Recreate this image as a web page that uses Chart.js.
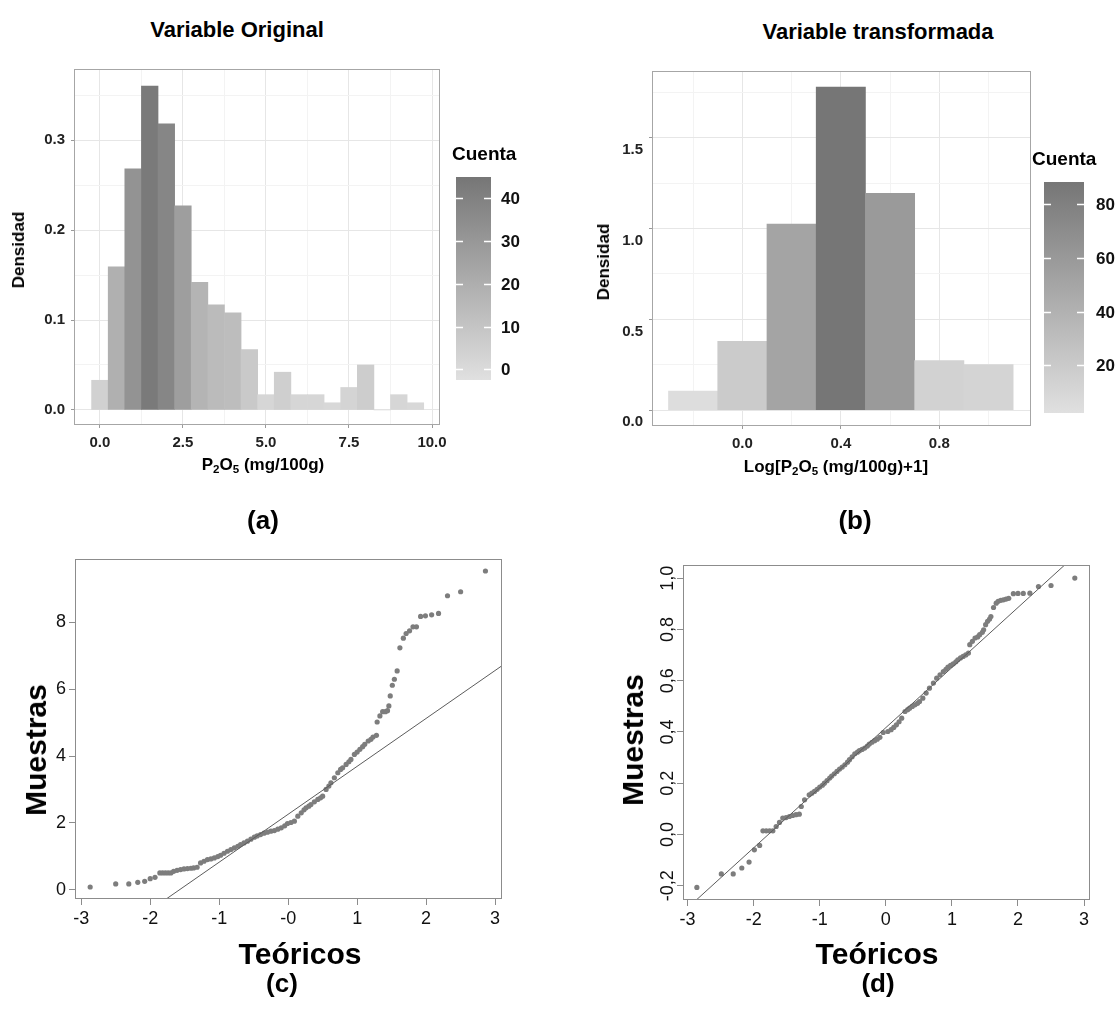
<!DOCTYPE html>
<html lang="es">
<head>
<meta charset="utf-8">
<title>P2O5: histogramas y Q-Q</title>
<script src="https://cdn.jsdelivr.net/npm/chart.js@4.4.1/dist/chart.umd.min.js"></script>
<style>
  html, body { margin: 0; padding: 0; background: #fff; }
  body { width: 1120px; height: 1025px; position: relative; overflow: hidden;
         font-family: 'Liberation Sans', Arial, sans-serif; color: #000; }
  canvas { position: absolute; }
  .txt { position: absolute; font-weight: bold; white-space: nowrap; transform: translate(-50%, -50%); }
  .titulo { font-size: 22px; }
  .letra { font-size: 26px; }
  .eje { font-size: 17px; }
  .ejeqq { font-size: 30px; }
  .vert { transform: translate(-50%, -50%) rotate(-90deg); }
  sub { font-size: 68%; vertical-align: -0.3em; line-height: 0; }
</style>
</head>
<body>
<canvas id="ca" width="540" height="430" style="left:0px; top:50px"></canvas>
<canvas id="cb" width="540" height="430" style="left:580px; top:50px"></canvas>
<canvas id="cc" width="560" height="400" style="left:0px; top:540px"></canvas>
<canvas id="cd" width="530" height="400" style="left:590px; top:540px"></canvas>

<div class="txt titulo" style="left:237px; top:30px">Variable Original</div>
<div class="txt titulo" style="left:878px; top:32px">Variable transformada</div>
<div class="txt vert eje" style="left:19px; top:250px">Densidad</div>
<div class="txt eje" style="left:263px; top:465px">P<sub>2</sub>O<sub>5</sub> (mg/100g)</div>
<div class="txt vert eje" style="left:604px; top:262px">Densidad</div>
<div class="txt eje" style="left:836px; top:467px">Log[P<sub>2</sub>O<sub>5</sub> (mg/100g)+1]</div>
<div class="txt letra" style="left:263px; top:520px">(a)</div>
<div class="txt letra" style="left:855px; top:520px">(b)</div>
<div class="txt vert ejeqq" style="left:36px; top:750px">Muestras</div>
<div class="txt ejeqq" style="left:300px; top:954px">Teóricos</div>
<div class="txt vert ejeqq" style="left:633px; top:740px">Muestras</div>
<div class="txt ejeqq" style="left:877px; top:954px">Teóricos</div>
<div class="txt letra" style="left:282px; top:983px">(c)</div>
<div class="txt letra" style="left:878px; top:983px">(d)</div>

<script>
// ---------------------------------------------
// datos
// ---------------------------------------------
// (a) P2O5 original, clases de 0.5
const clasesA = [0, 0.5, 1, 1.5, 2, 2.5, 3, 3.5, 4, 4.5, 5, 5.5, 6, 6.5, 7, 7.5, 8, 8.5, 9, 9.5];
const densidadA = [0.033, 0.159, 0.268, 0.360, 0.318, 0.227, 0.142, 0.117, 0.108, 0.067,
                   0.017, 0.042, 0.017, 0.017, 0.008, 0.025, 0.050, 0, 0.017, 0.008];
const cuentaA = [4, 19, 32, 43, 38, 27, 17, 14, 13, 8, 2, 5, 2, 2, 1, 3, 6, 0, 2, 1];

// (b) log(P2O5 + 1), clases de 0.2
const clasesB = [-0.2, 0, 0.2, 0.4, 0.6, 0.8, 1.0];
const densidadB = [0.105, 0.380, 1.025, 1.778, 1.194, 0.274, 0.252];
const cuentaB = [5, 19, 51, 88, 59, 14, 12];

// marcas de ejes
const ticksXA = [0, 2.5, 5, 7.5, 10];
const menoresXA = [1.25, 3.75, 6.25, 8.75];
const ticksYA = [0, 0.1, 0.2, 0.3];
const menoresYA = [0.05, 0.15, 0.25, 0.35];
const ticksXB = [0, 0.4, 0.8];
const menoresXB = [-0.2, 0.2, 0.6, 1.0];
const ticksYB = [0, 0.5, 1.0, 1.5];
const menoresYB = [0.25, 0.75, 1.25, 1.75];
const ticksCuentaA = [0, 10, 20, 30, 40];
const rangoCuentaA = [-2.5, 45];
const ticksCuentaB = [20, 40, 60, 80];
const rangoCuentaB = [2.3, 88.2];

const ticksXQQ = [-3, -2, -1, 0, 1, 2, 3];
const etiquetasXC = ['-3', '-2', '-1', '-0', '1', '2', '3'];
const etiquetasXD = ['-3', '-2', '-1', '0', '1', '2', '3'];
const ticksYC = [0, 2, 4, 6, 8];
const ticksYD = [-0.2, 0, 0.2, 0.4, 0.6, 0.8, 1.0];
const etiquetasYD = ['-0,2', '0,0', '0,2', '0,4', '0,6', '0,8', '1,0'];

// (c) Q-Q variable original
const teoricosC = [-2.87, -2.50, -2.31, -2.18, -2.08, -2.00, -1.93, -1.86, -1.82, -1.78, -1.74, -1.70,
  -1.66, -1.61, -1.56, -1.51, -1.46, -1.41, -1.37, -1.32, -1.27, -1.22, -1.17, -1.12, -1.07, -1.02,
  -0.98, -0.93, -0.88, -0.83, -0.78, -0.73, -0.69, -0.64, -0.59, -0.54, -0.49, -0.45, -0.40, -0.35,
  -0.30, -0.25, -0.20, -0.15, -0.10, -0.05, -0.01, 0.04, 0.09, 0.14, 0.19, 0.23, 0.26, 0.30, 0.33,
  0.38, 0.43, 0.47, 0.50, 0.55, 0.59, 0.62, 0.67, 0.72, 0.76, 0.79, 0.84, 0.88, 0.91, 0.96, 1.00,
  1.04, 1.08, 1.11, 1.16, 1.20, 1.23, 1.28, 1.29, 1.33, 1.37, 1.41, 1.44, 1.46, 1.48, 1.51, 1.54,
  1.58, 1.62, 1.67, 1.71, 1.76, 1.81, 1.86, 1.92, 1.99, 2.08, 2.18, 2.31, 2.50, 2.86];
const muestrasC = [0.08, 0.17, 0.17, 0.22, 0.25, 0.33, 0.37, 0.50, 0.50, 0.50, 0.50, 0.50,
  0.55, 0.58, 0.60, 0.62, 0.63, 0.64, 0.65, 0.67, 0.80, 0.85, 0.90, 0.92, 0.95, 0.99,
  1.03, 1.09, 1.15, 1.20, 1.25, 1.30, 1.35, 1.40, 1.45, 1.51, 1.57, 1.61, 1.65, 1.69,
  1.72, 1.75, 1.77, 1.81, 1.85, 1.91, 1.98, 2.01, 2.05, 2.20, 2.30, 2.39, 2.45, 2.50, 2.55,
  2.63, 2.70, 2.75, 2.80, 3.00, 3.10, 3.20, 3.35, 3.50, 3.60, 3.65, 3.75, 3.83, 3.90, 4.05, 4.12,
  4.20, 4.28, 4.35, 4.45, 4.50, 4.57, 4.62, 5.02, 5.20, 5.33, 5.33, 5.36, 5.50, 5.80, 6.12, 6.30,
  6.55, 7.24, 7.53, 7.67, 7.75, 7.87, 7.87, 8.18, 8.20, 8.23, 8.27, 8.80, 8.92, 9.54];
const rectaC = [2.257, 1.435]; // intercepto, pendiente

// (d) Q-Q variable transformada
const teoricosD = [-2.86, -2.49, -2.31, -2.18, -2.07, -1.99, -1.91, -1.86, -1.81, -1.76, -1.71,
  -1.66, -1.61, -1.56, -1.51, -1.46, -1.41, -1.36, -1.31, -1.28, -1.23, -1.16, -1.12, -1.08, -1.04,
  -1.00, -0.96, -0.93, -0.89, -0.85, -0.82, -0.78, -0.74, -0.70, -0.66, -0.62, -0.58, -0.55, -0.51,
  -0.47, -0.43, -0.40, -0.36, -0.32, -0.28, -0.25, -0.21, -0.17, -0.13, -0.09, -0.04, 0.03, 0.08,
  0.12, 0.16, 0.20, 0.24, 0.29, 0.33, 0.36, 0.40, 0.44, 0.48, 0.51, 0.56, 0.61, 0.66, 0.72, 0.77,
  0.82, 0.87, 0.91, 0.94, 0.98, 1.02, 1.06, 1.09, 1.13, 1.17, 1.21, 1.25, 1.27, 1.31, 1.35, 1.39,
  1.42, 1.46, 1.48, 1.51, 1.54, 1.57, 1.59, 1.63, 1.67, 1.70, 1.74, 1.78, 1.82, 1.86, 1.93, 2.00,
  2.08, 2.18, 2.31, 2.50, 2.86];
const muestrasD = [-0.207, -0.154, -0.154, -0.131, -0.108, -0.060, -0.043, 0.014, 0.014, 0.014, 0.014,
  0.031, 0.047, 0.064, 0.066, 0.070, 0.074, 0.077, 0.079, 0.109, 0.135, 0.155, 0.161, 0.168, 0.176,
  0.185, 0.192, 0.200, 0.210, 0.220, 0.228, 0.237, 0.246, 0.255, 0.263, 0.272, 0.282, 0.292, 0.303,
  0.315, 0.321, 0.327, 0.332, 0.337, 0.345, 0.353, 0.360, 0.366, 0.372, 0.379, 0.398, 0.402, 0.409,
  0.418, 0.428, 0.440, 0.454, 0.480, 0.487, 0.493, 0.500, 0.506, 0.512, 0.519, 0.532, 0.552, 0.571, 0.591, 0.610,
  0.623, 0.636, 0.645, 0.653, 0.660, 0.666, 0.674, 0.682, 0.689, 0.695, 0.701, 0.708, 0.741, 0.754, 0.767, 0.771,
  0.780, 0.789, 0.799, 0.819, 0.832, 0.841, 0.851, 0.886, 0.903, 0.910, 0.914, 0.916, 0.919, 0.922, 0.940, 0.941,
  0.941, 0.942, 0.968, 0.972, 1.001];
const rectaD = [0.417, 0.2346];

// ---------------------------------------------
// utilidades
// ---------------------------------------------
const ARIAL = "'Liberation Sans', Arial, sans-serif";
const ESTRECHA = "'Liberation Sans Narrow', 'Arial Narrow', 'Liberation Sans', Arial, sans-serif";
const GRIS_BAJO = 224, GRIS_ALTO = 118;

function gris(c, rango) {
  const t = Math.min(1, Math.max(0, (c - rango[0]) / (rango[1] - rango[0])));
  const v = Math.round(GRIS_BAJO + t * (GRIS_ALTO - GRIS_BAJO));
  return `rgb(${v},${v},${v})`;
}

function marco(color) {
  return {
    id: 'marco',
    afterDraw(chart) {
      const a = chart.chartArea, ctx = chart.ctx;
      ctx.save();
      ctx.strokeStyle = color;
      ctx.lineWidth = 1;
      ctx.strokeRect(Math.round(a.left) + 0.5, Math.round(a.top) + 0.5,
                     Math.round(a.right - a.left) - 1, Math.round(a.bottom - a.top) - 1);
      ctx.restore();
    }
  };
}

// barra de color "Cuenta"
function barraColor(b) {
  return {
    id: 'barraColor',
    afterDraw(chart) {
      const ctx = chart.ctx;
      const py = v => b.y + b.h - (v - b.rango[0]) / (b.rango[1] - b.rango[0]) * b.h;
      ctx.save();
      const g = ctx.createLinearGradient(0, b.y + b.h, 0, b.y);
      g.addColorStop(0, gris(b.rango[0], b.rango));
      g.addColorStop(1, gris(b.rango[1], b.rango));
      ctx.fillStyle = g;
      ctx.fillRect(b.x, b.y, b.w, b.h);
      ctx.strokeStyle = '#fff';
      ctx.lineWidth = 1.6;
      ctx.font = `bold 17px ${ESTRECHA}`;
      ctx.fillStyle = '#111';
      ctx.textBaseline = 'middle';
      b.ticks.forEach(v => {
        const y = Math.round(py(v)) + 0.5;
        ctx.beginPath();
        ctx.moveTo(b.x, y); ctx.lineTo(b.x + 7, y);
        ctx.moveTo(b.x + b.w - 7, y); ctx.lineTo(b.x + b.w, y);
        ctx.stroke();
        ctx.fillText(String(v), b.xTexto, y + 1);
      });
      ctx.font = `bold 19px ${ARIAL}`;
      ctx.fillStyle = '#000';
      ctx.fillText('Cuenta', b.xTitulo, b.yTitulo);
      ctx.restore();
    }
  };
}

// etiquetas giradas del eje y (estilo R, las = 0)
function etiquetasGiradas(valores, textos, xCentro) {
  return {
    id: 'etiquetasGiradas',
    afterDraw(chart) {
      const s = chart.scales.y, ctx = chart.ctx;
      ctx.save();
      ctx.font = `18px ${ARIAL}`;
      ctx.fillStyle = '#111';
      ctx.textAlign = 'center';
      ctx.textBaseline = 'middle';
      valores.forEach((v, i) => {
        ctx.save();
        ctx.translate(xCentro, s.getPixelForValue(v));
        ctx.rotate(-Math.PI / 2);
        ctx.fillText(textos[i], 0, 0);
        ctx.restore();
      });
      ctx.restore();
    }
  };
}

// ---------------------------------------------
// histogramas (a) y (b)
// ---------------------------------------------
function histograma(id, o) {
  const mayoresX = o.ticksX, mayoresY = o.ticksY;
  const todos = (may, men) => may.concat(men).sort((p, q) => p - q).map(v => ({ value: v }));
  const colorGrid = (may) => c => may.includes(c.tick.value) ? '#e6e6e6' : '#f3f3f3';
  const colorTick = (may) => c => may.includes(c.tick.value) ? '#9a9a9a' : 'rgba(0,0,0,0)';
  const fuente = { family: ESTRECHA, size: 15, weight: 'bold' };

  return new Chart(document.getElementById(id), {
    type: 'bar',
    data: {
      datasets: [{
        data: o.clases.map((x, i) => ({ x: x, y: o.densidad[i] })),
        backgroundColor: o.cuenta.map(c => gris(c, o.rango)),
        borderWidth: 0,
        barPercentage: 1,
        categoryPercentage: 1
      }]
    },
    options: {
      responsive: false,
      animation: false,
      layout: { padding: o.padding },
      plugins: { legend: { display: false }, tooltip: { enabled: false } },
      scales: {
        x: {
          type: 'linear', min: o.xMin, max: o.xMax, offset: false,
          afterBuildTicks: s => { s.ticks = todos(mayoresX, o.menoresX); },
          afterFit: s => { s.height = o.altoX; },
          ticks: {
            autoSkip: false, maxRotation: 0, padding: 6, color: '#222', font: fuente,
            callback: v => mayoresX.includes(v) ? v.toFixed(1) : ''
          },
          grid: { offset: false, color: colorGrid(mayoresX), tickLength: 3, tickColor: colorTick(mayoresX) },
          border: { display: false }
        },
        y: {
          min: o.yMin, max: o.yMax,
          afterBuildTicks: s => { s.ticks = todos(mayoresY, o.menoresY); },
          afterFit: s => { s.width = o.anchoY; },
          ticks: {
            autoSkip: false, padding: 6, color: '#222', font: fuente, labelOffset: o.desplazaY || 0,
            callback: v => mayoresY.includes(v) ? v.toFixed(1) : ''
          },
          grid: { color: colorGrid(mayoresY), tickLength: 3, tickColor: colorTick(mayoresY) },
          border: { display: false }
        }
      }
    },
    plugins: [marco('#a6a6a6'), barraColor(o.barra)]
  });
}

histograma('ca', {
  clases: clasesA, densidad: densidadA, cuenta: cuentaA, rango: rangoCuentaA,
  ticksX: ticksXA, menoresX: menoresXA, ticksY: ticksYA, menoresY: menoresYA,
  xMin: -0.78, xMax: 10.24, yMin: -0.0167, yMax: 0.379,
  padding: { top: 19, right: 100, left: 0, bottom: 0 }, anchoY: 74, altoX: 55,
  barra: { x: 456, y: 127, w: 35, h: 203, rango: rangoCuentaA, ticks: ticksCuentaA,
           xTexto: 501, xTitulo: 452, yTitulo: 105 }
});

histograma('cb', {
  clases: clasesB, densidad: densidadB, cuenta: cuentaB, rango: rangoCuentaB,
  ticksX: ticksXB, menoresX: menoresXB, ticksY: ticksYB, menoresY: menoresYB,
  xMin: -0.367, xMax: 1.1725, yMin: -0.0865, yMax: 1.867, desplazaY: 12,
  padding: { top: 21, right: 89, left: 0, bottom: 0 }, anchoY: 72, altoX: 54,
  barra: { x: 464, y: 132, w: 40, h: 231, rango: rangoCuentaB, ticks: ticksCuentaB,
           xTexto: 516, xTitulo: 452, yTitulo: 110 }
});

// ---------------------------------------------
// gráficos Q-Q (c) y (d)
// ---------------------------------------------
function qq(id, o) {
  const recta = [o.xMin, o.xMax].map(x => ({ x: x, y: o.recta[0] + o.recta[1] * x }));
  const ejeGris = '#8c8c8c';
  const fuente = { family: ARIAL, size: 18 };
  return new Chart(document.getElementById(id), {
    type: 'scatter',
    data: {
      datasets: [
        { type: 'line', data: recta, borderColor: '#5c5c5c', borderWidth: 1, pointRadius: 0, fill: false },
        { data: o.teor.map((x, i) => ({ x: x, y: o.mues[i] })),
          pointRadius: 2.6, backgroundColor: '#7d7d7d', borderWidth: 0, pointBorderWidth: 0 }
      ]
    },
    options: {
      responsive: false,
      animation: false,
      layout: { padding: o.padding },
      plugins: { legend: { display: false }, tooltip: { enabled: false } },
      scales: {
        x: {
          type: 'linear', min: o.xMin, max: o.xMax,
          afterBuildTicks: s => { s.ticks = ticksXQQ.map(v => ({ value: v })); },
          afterFit: s => { s.height = o.altoX; },
          ticks: { autoSkip: false, maxRotation: 0, padding: 3, color: '#111', font: fuente,
                   callback: (v, i) => o.etiquetasX[i] },
          grid: { drawOnChartArea: false, tickLength: 6, tickColor: ejeGris },
          border: { display: false }
        },
        y: {
          min: o.yMin, max: o.yMax,
          afterBuildTicks: s => { s.ticks = o.ticksY.map(v => ({ value: v })); },
          afterFit: s => { s.width = o.anchoY; },
          ticks: { display: !o.girar, autoSkip: false, padding: 3, color: '#111', font: fuente,
                   callback: v => String(v) },
          grid: { drawOnChartArea: false, tickLength: 6, tickColor: ejeGris },
          border: { display: false }
        }
      }
    },
    plugins: [marco(ejeGris)].concat(o.girar ? [etiquetasGiradas(o.ticksY, etiquetasYD, o.xEtiquetas)] : [])
  });
}

qq('cc', {
  teor: teoricosC, mues: muestrasC, recta: rectaC,
  xMin: -3.09, xMax: 3.10, yMin: -0.28, yMax: 9.90,
  ticksY: ticksYC, etiquetasX: etiquetasXC,
  padding: { top: 19, right: 58, left: 0, bottom: 0 }, anchoY: 75, altoX: 41
});

qq('cd', {
  teor: teoricosD, mues: muestrasD, recta: rectaD,
  xMin: -3.07, xMax: 3.09, yMin: -0.256, yMax: 1.052,
  ticksY: ticksYD, etiquetasX: etiquetasXD, girar: true, xEtiquetas: 78,
  padding: { top: 25, right: 30, left: 0, bottom: 0 }, anchoY: 93, altoX: 40
});
</script>
</body>
</html>
